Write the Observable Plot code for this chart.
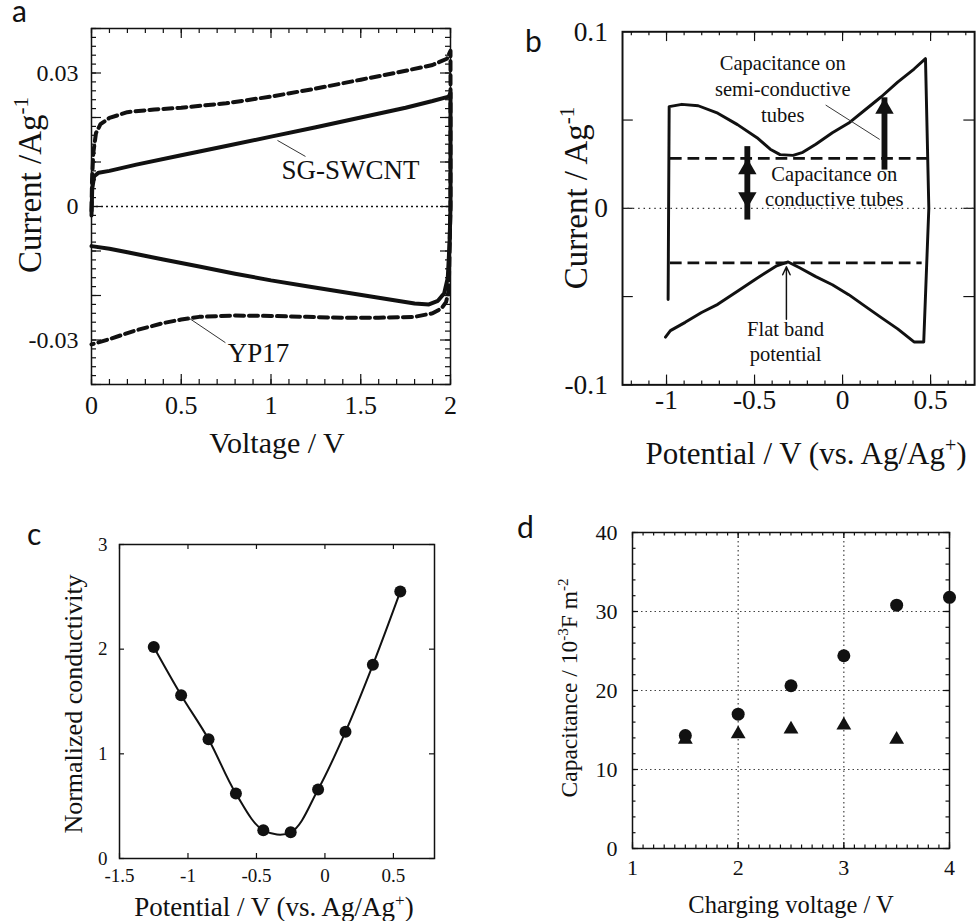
<!DOCTYPE html>
<html><head><meta charset="utf-8">
<script src="https://cdn.jsdelivr.net/npm/d3@7"></script>
<script src="https://cdn.jsdelivr.net/npm/@observablehq/plot@0.6"></script>
<style>
html,body{margin:0;padding:0;background:#fff;overflow:hidden}
#fig{position:relative;width:979px;height:921px;overflow:hidden;background:#fff}
.panel{position:absolute;overflow:hidden}
#overlay{position:absolute;left:0;top:0;pointer-events:none}
</style></head><body>
<div id="fig"></div>
<script>
// ---------- Panel a: CV curves ----------
const aSwcntVoltage = [0.0, 0.004, 0.015, 0.04, 0.1, 0.25, 0.5, 0.75, 1.0, 1.25, 1.5, 1.75, 1.9, 1.99, 2.0, 2.0, 1.995, 1.985, 1.965, 1.93, 1.88, 1.8, 1.6, 1.4, 1.2, 1.0, 0.8, 0.6, 0.4, 0.2, 0.1, 0.0];
const aSwcntCurrent = [-0.002, 0.004, 0.0068, 0.0076, 0.0080, 0.0094, 0.0115, 0.0136, 0.0157, 0.0178, 0.0200, 0.0222, 0.0237, 0.0247, 0.0255, 0.0, -0.008, -0.016, -0.0195, -0.0212, -0.0220, -0.0218, -0.0205, -0.0192, -0.0179, -0.0166, -0.0151, -0.0135, -0.0119, -0.0103, -0.0095, -0.0089];
const aYp17Voltage = [0.0, 0.003, 0.01, 0.025, 0.05, 0.1, 0.2, 0.35, 0.5, 0.75, 1.0, 1.25, 1.5, 1.75, 1.9, 1.98, 2.0, 2.0, 1.99, 1.975, 1.95, 1.9, 1.8, 1.6, 1.4, 1.2, 1.0, 0.8, 0.6, 0.5, 0.4, 0.25, 0.1, 0.0];
const aYp17Current = [-0.001, 0.006, 0.012, 0.0165, 0.0185, 0.0199, 0.0212, 0.0218, 0.0222, 0.0232, 0.0247, 0.0265, 0.0285, 0.0305, 0.0318, 0.0332, 0.035, 0.0, -0.019, -0.0215, -0.0229, -0.024, -0.0248, -0.025, -0.025, -0.0248, -0.0246, -0.0245, -0.0248, -0.0254, -0.0262, -0.0278, -0.0298, -0.031];
const aSeriesNames = ["SG-SWCNT", "YP17"];
const aNamePos = [[1.443, 0.0081], [0.93, -0.0329]];
const aLeaderFrom = [[1.036, 0.01485], [0.54, -0.025]];
const aLeaderTo = [[1.192, 0.01125], [0.746, -0.0306]];
const aXTickLabels = ["0", "0.5", "1", "1.5", "2"];
const aYTickLabels = ["0.03", "0", "-0.03"];

// ---------- Panel b: CV of SWCNT ----------
const bPotential = [-0.991, -0.985, -0.913, -0.820, -0.709, -0.597, -0.486, -0.411, -0.355, -0.281, -0.226, -0.152, -0.058, 0.035, 0.127, 0.220, 0.313, 0.406, 0.471, 0.490, 0.461, 0.406, 0.313, 0.220, 0.127, 0.035, -0.058, -0.152, -0.244, -0.309, -0.374, -0.486, -0.597, -0.709, -0.801, -0.894, -0.978, -1.006];
const bCurrent = [-0.0517, 0.0576, 0.0589, 0.0581, 0.0539, 0.0474, 0.0400, 0.0335, 0.0304, 0.0300, 0.0317, 0.0363, 0.0428, 0.0483, 0.0557, 0.0632, 0.0715, 0.0789, 0.0848, 0.0, -0.0757, -0.0757, -0.0683, -0.0619, -0.0554, -0.0489, -0.0433, -0.0387, -0.0337, -0.0304, -0.0326, -0.0396, -0.0470, -0.0544, -0.0590, -0.0646, -0.0693, -0.0730];
const bBaseCurrent = [0.0283, -0.0309];
const bBaseFrom = [-0.978, -0.978];
const bBaseTo = [0.50, 0.452];
const bCondArrow = {x: -0.541, from: 0.0283, to: 0.0};
const bSemiArrow = {x: 0.238, from: 0.0283, to: 0.0626};
const bFlatArrow = {x: -0.319, from: -0.0628, to: -0.0331};
const bTexts = ["Capacitance on\nsemi-conductive\ntubes", "Capacitance on\nconductive tubes", "Flat band\npotential"];
const bTextPos = [[-0.34, 0.0682], [-0.047, 0.0131], [-0.324, -0.0748]];
const bLeader = {x1: -0.096, y1: 0.0585, x2: 0.211, y2: 0.039};
const bXTickLabels = ["-1", "-0.5", "0", "0.5"];
const bYTickLabels = ["0.1", "0", "-0.1"];

// ---------- Panel c: conductivity ----------
const cPotential = [-1.25, -1.05, -0.85, -0.65, -0.45, -0.25, -0.05, 0.15, 0.35, 0.55];
const cConductivity = [2.02, 1.56, 1.14, 0.62, 0.27, 0.25, 0.66, 1.21, 1.85, 2.55];
const cXTickLabels = ["-1.5", "-1", "-0.5", "0", "0.5"];
const cYTickLabels = ["0", "1", "2", "3"];

// ---------- Panel d: capacitance ----------
const dVoltageCircle = [1.5, 2, 2.5, 3, 3.5, 4];
const dCapCircle = [14.3, 17.0, 20.6, 24.4, 30.8, 31.8];
const dVoltageTriangle = [1.5, 2, 2.5, 3, 3.5];
const dCapTriangle = [13.8, 14.5, 15.1, 15.6, 13.8];
const dXTickLabels = ["1", "2", "3", "4"];
const dYTickLabels = ["0", "10", "20", "30", "40"];

// ---------- helpers ----------
const SERIF = "'Liberation Serif','Times New Roman',serif";
const INK = "#111";
const fig = document.getElementById("fig");
function place(el, left, top, w, h) {
  const d = document.createElement("div");
  d.className = "panel";
  Object.assign(d.style, {left: left + "px", top: top + "px", width: w + "px", height: h + "px"});
  d.appendChild(el);
  fig.appendChild(d);
}
function ticksX(values, len, innerH, sw = 1.2) {
  return [
    Plot.tickX(values, {x: d => d, insetTop: innerH - len, strokeWidth: sw, stroke: INK}),
    Plot.tickX(values, {x: d => d, insetBottom: innerH - len, strokeWidth: sw, stroke: INK})
  ];
}
function ticksY(values, len, innerW, sw = 1.2) {
  return [
    Plot.tickY(values, {y: d => d, insetRight: innerW - len, strokeWidth: sw, stroke: INK}),
    Plot.tickY(values, {y: d => d, insetLeft: innerW - len, strokeWidth: sw, stroke: INK})
  ];
}
const rng = (a, b, s) => d3.range(Math.round((b - a) / s) + 1).map(k => +(a + k * s).toFixed(6));
function pts(xs, ys) { return xs.map((x, k) => ({x, y: ys[k]})); }

// ---------- Panel a ----------
{
  const W = 470, H = 470, mt = 28, mr = 20, mb = 86, ml = 91;
  const iw = W - ml - mr, ih = H - mt - mb;
  const names = aSeriesNames.map((t, k) => ({t, x: aNamePos[k][0], y: aNamePos[k][1]}));
  const leaders = aLeaderFrom.map((p, k) => ({x1: p[0], y1: p[1], x2: aLeaderTo[k][0], y2: aLeaderTo[k][1]}));
  const p = Plot.plot({
    width: W, height: H, marginTop: mt, marginRight: mr, marginBottom: mb, marginLeft: ml,
    style: {fontFamily: SERIF, background: "transparent", color: INK},
    x: {domain: [0, 2], axis: null},
    y: {domain: [-0.04, 0.04], axis: null},
    marks: [
      ...ticksX(rng(0, 2, 0.1), 5, ih), ...ticksX(rng(0, 2, 0.5), 10, ih),
      ...ticksY(rng(-0.04, 0.04, 0.002), 5, iw), ...ticksY(rng(-0.04, 0.04, 0.01), 10, iw),
      Plot.ruleY([0], {strokeDasharray: "2,3", strokeWidth: 1.4, stroke: INK}),
      Plot.line(pts(aYp17Voltage, aYp17Current), {x: "x", y: "y", stroke: INK, strokeWidth: 4, strokeDasharray: "9,5"}),
      Plot.line(pts(aSwcntVoltage, aSwcntCurrent), {x: "x", y: "y", stroke: INK, strokeWidth: 4, strokeLinejoin: "round"}),
      Plot.link(leaders, {x1: "x1", y1: "y1", x2: "x2", y2: "y2", stroke: "#333", strokeWidth: 1}),
      Plot.text(names, {x: "x", y: "y", text: "t", fontSize: 27, fill: INK}),
      Plot.text(aYTickLabels, {y: d => +d, text: d => d, frameAnchor: "left", dx: -13, textAnchor: "end", fontSize: 24, fill: INK}),
      Plot.text(aXTickLabels, {x: d => +d, text: d => d, frameAnchor: "bottom", dy: 29, fontSize: 26, fill: INK}),
      Plot.frame({stroke: INK, strokeWidth: 1.5})
    ]
  });
  place(p, 0, 0, W, H);
}

// ---------- Panel b ----------
{
  const W = 500, H = 470, mt = 32, mr = 5, mb = 77, ml = 135;
  const iw = W - ml - mr, ih = H - mt - mb;
  const base = bBaseCurrent.map((y, k) => ({y, x1: bBaseFrom[k], x2: bBaseTo[k]}));
  const texts = bTexts.map((t, k) => ({t, x: bTextPos[k][0], y: bTextPos[k][1]}));
  const headR = 7, headOff = 2 * 0.7776 * headR;
  const p = Plot.plot({
    width: W, height: H, marginTop: mt, marginRight: mr, marginBottom: mb, marginLeft: ml,
    style: {fontFamily: SERIF, background: "transparent", color: INK},
    x: {domain: [-1.25, 0.75], axis: null},
    y: {domain: [-0.1, 0.1], axis: null},
    marks: [
      ...ticksX(rng(-1.2, 0.7, 0.1), 4, ih), ...ticksX(rng(-1, 0.5, 0.5), 10, ih),
      ...ticksY(rng(-0.1, 0.1, 0.05), 11, iw),
      Plot.ruleY([0], {strokeDasharray: "1.5,4", strokeWidth: 1.2, stroke: "#333"}),
      Plot.ruleY(base, {y: "y", x1: "x1", x2: "x2", stroke: INK, strokeWidth: 3, strokeDasharray: "12,6"}),
      Plot.line(pts(bPotential, bCurrent), {x: "x", y: "y", stroke: INK, strokeWidth: 3, strokeLinejoin: "round"}),
      Plot.link([bLeader], {x1: "x1", y1: "y1", x2: "x2", y2: "y2", stroke: "#333", strokeWidth: 1}),
      // conductive double arrow
      Plot.ruleX([bCondArrow], {x: "x", y1: "to", y2: "from", stroke: INK, strokeWidth: 6, insetTop: 12, insetBottom: 12}),
      Plot.dot([bCondArrow], {x: "x", y: "from", symbol: "triangle", r: headR, fill: INK, stroke: null, dy: headOff}),
      Plot.dot([bCondArrow], {x: "x", y: "to", symbol: "triangle", r: headR, fill: INK, stroke: null, rotate: 180, dy: -headOff}),
      // semi-conductive arrow
      Plot.ruleX([bSemiArrow], {x: "x", y1: "from", y2: "to", stroke: INK, strokeWidth: 6, insetTop: 12}),
      Plot.dot([bSemiArrow], {x: "x", y: "to", symbol: "triangle", r: headR, fill: INK, stroke: null, dy: headOff}),
      // flat band arrow
      Plot.arrow([bFlatArrow], {x: "x", y1: "from", y2: "to", stroke: INK, strokeWidth: 1.5, headLength: 9, headAngle: 50}),
      Plot.text(texts, {x: "x", y: "y", text: "t", fontSize: 21, lineHeight: 1.25, fill: INK}),
      Plot.text(bYTickLabels, {y: d => +d, text: d => d, frameAnchor: "left", dx: -15, textAnchor: "end", fontSize: 28, fill: INK}),
      Plot.text(bXTickLabels, {x: d => +d, text: d => d, frameAnchor: "bottom", dy: 25, fontSize: 28, fill: INK}),
      Plot.frame({stroke: INK, strokeWidth: 2})
    ]
  });
  place(p, 490, 0, 489, H);
}

// ---------- Panel c ----------
{
  const W = 470, H = 421, mt = 44, mr = 36, mb = 63, ml = 119;
  const iw = W - ml - mr, ih = H - mt - mb;
  const data = pts(cPotential, cConductivity);
  const p = Plot.plot({
    width: W, height: H, marginTop: mt, marginRight: mr, marginBottom: mb, marginLeft: ml,
    style: {fontFamily: SERIF, background: "transparent", color: INK},
    x: {domain: [-1.5, 0.8], axis: null},
    y: {domain: [0, 3], axis: null},
    marks: [
      ...ticksX(rng(-1.5, 0.5, 0.5), 5, ih), ...ticksY(rng(0, 3, 1), 5, iw),
      Plot.line(data, {x: "x", y: "y", curve: "catmull-rom", stroke: INK, strokeWidth: 2}),
      Plot.dot(data, {x: "x", y: "y", r: 6, fill: INK, stroke: null}),
      Plot.text(cYTickLabels, {y: d => +d, text: d => d, frameAnchor: "left", dx: -12, textAnchor: "end", fontSize: 19, fill: INK}),
      Plot.text(cXTickLabels, {x: d => +d, text: d => d, frameAnchor: "bottom", dy: 23, fontSize: 19, fill: INK}),
      Plot.frame({stroke: INK, strokeWidth: 1.5})
    ]
  });
  place(p, 0, 500, W, H);
}

// ---------- Panel d ----------
{
  const W = 489, H = 421, mt = 32, mr = 30, mb = 73, ml = 142;
  const iw = W - ml - mr, ih = H - mt - mb;
  const p = Plot.plot({
    width: W, height: H, marginTop: mt, marginRight: mr, marginBottom: mb, marginLeft: ml,
    style: {fontFamily: SERIF, background: "transparent", color: INK},
    x: {domain: [1, 4], axis: null},
    y: {domain: [0, 40], axis: null},
    marks: [
      Plot.ruleX([2, 3], {stroke: "#444", strokeWidth: 1.2, strokeDasharray: "1.5,3"}),
      Plot.ruleY([10, 20, 30], {stroke: "#444", strokeWidth: 1.2, strokeDasharray: "1.5,3"}),
      ...ticksX(rng(1, 4, 0.1), 3.5, ih), ...ticksX(rng(1, 4, 1), 6, ih),
      ...ticksY(rng(0, 40, 2), 3.5, iw), ...ticksY(rng(0, 40, 10), 6, iw),
      Plot.dot(pts(dVoltageTriangle, dCapTriangle), {x: "x", y: "y", symbol: "triangle", r: 5.5, fill: INK, stroke: null}),
      Plot.dot(pts(dVoltageCircle, dCapCircle), {x: "x", y: "y", r: 6.5, fill: INK, stroke: null}),
      Plot.text(dYTickLabels, {y: d => +d, text: d => d, frameAnchor: "left", dx: -15, textAnchor: "end", fontSize: 22, fill: INK}),
      Plot.text(dXTickLabels, {x: d => +d, text: d => d, frameAnchor: "bottom", dy: 26, fontSize: 22, fill: INK}),
      Plot.frame({stroke: INK, strokeWidth: 1.5})
    ]
  });
  place(p, 490, 500, W, H);
}

// ---------- titles and panel letters ----------
const overlay = `
<svg id="overlay" width="979" height="921" xmlns="http://www.w3.org/2000/svg">
 <g font-family="${SERIF.replace(/'/g, "")}" fill="${INK}" text-anchor="middle">
  <text x="277" y="453" font-size="30">Voltage / V</text>
  <text transform="translate(41,185) rotate(-90)" font-size="33">Current /Ag<tspan dy="-13" font-size="21">-1</tspan></text>
  <text x="806" y="464" font-size="31">Potential / V (vs. Ag/Ag<tspan dy="-12" font-size="20">+</tspan><tspan dy="12">)</tspan></text>
  <text transform="translate(587,198) rotate(-90)" font-size="33">Current / Ag<tspan dy="-13" font-size="21">-1</tspan></text>
  <text x="274" y="916" font-size="27">Potential / V (vs. Ag/Ag<tspan dy="-10" font-size="17">+</tspan><tspan dy="10">)</tspan></text>
  <text transform="translate(82,704) rotate(-90)" font-size="26">Normalized conductivity</text>
  <text x="791" y="913" font-size="24.5">Charging voltage / V</text>
  <text transform="translate(577,688) rotate(-90)" font-size="23.5">Capacitance / 10<tspan dy="-9" font-size="15">-3</tspan><tspan dy="9">F m</tspan><tspan dy="-9" font-size="15">-2</tspan></text>
 </g>
 <g font-family="Lato, 'Open Sans', sans-serif" fill="#111" font-size="30">
  <text x="12" y="22">a</text>
  <text x="525" y="52">b</text>
  <text x="27" y="545">c</text>
  <text x="517" y="538">d</text>
 </g>
</svg>`;
fig.insertAdjacentHTML("beforeend", overlay);
</script>
</body></html>
